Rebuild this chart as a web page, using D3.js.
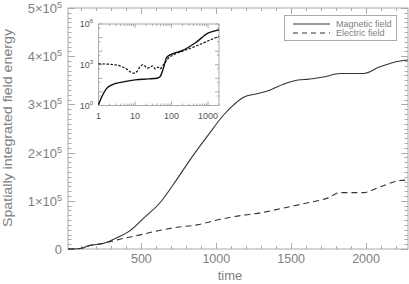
<!DOCTYPE html>
<html><head><meta charset="utf-8">
<script src="https://cdn.jsdelivr.net/npm/d3@7"></script>
<style>body{margin:0;background:#fff}svg{display:block}text{font-family:"Liberation Sans",Arial,sans-serif;fill:#808080}</style>
</head><body><svg id="c" width="409" height="284"></svg>
<script>
// ---- data ----
const mainTime = [10,90,150,250,340,420,515,627,738,827,938,1049,1116,1182,1271,1360,1449,1560,1604,1716,1827,1982,2093,2227,2280];
const magneticMain = [0,1000,7000,12000,24000,37000,64000,97000,145000,186000,233000,278000,299000,315000,322000,330000,342000,351000,352000,357000,364000,364000,378000,390000,392000];
const electricTime = [10,90,150,250,338,515,627,738,871,1004,1116,1293,1493,1627,1738,1827,1982,2093,2227,2280];
const electricMain = [0,1000,7000,12000,19000,31000,39000,45000,50000,60000,67000,75000,88000,97000,105000,117000,117000,129000,142000,143000];
const insetTimeB = [1,1.24,1.7,2.33,4.4,10.1,23.5,39.8,49,60,74,102,192,445,1030,1740,2000];
const insetMagLog = [0.05,0.66,1.28,1.52,1.72,1.89,1.96,2.01,2.14,2.75,3.54,3.79,4.03,4.6,5.34,5.53,5.56];
const insetTimeE = [1,2.86,5.4,9.1,11.3,13.9,17.1,21.2,26,30,35.8,42.3,49,60,83,126,192,445,1030,2000];
const insetEleLog = [3.07,3.0,2.75,2.38,2.5,2.88,3.0,2.75,2.8,2.92,2.7,2.83,2.7,3.0,3.49,3.79,3.98,4.35,4.77,5.09];
const xTicks = [500,1000,1500,2000];
const yTicks = [0,1,2,3,4,5];
const insetXTicks = [1,10,100,1000];
const insetYLabels = [0,3,6];
const legendLabels = ["Magnetic field","Electric field"];

// ---- layout ----
const svg = d3.select("#c");
const L=68,R=408,T=8,B=249;
const x = d3.scaleLinear().domain([10,2280]).range([L,R]);
const y = d3.scaleLinear().domain([0,500000]).range([B,T]);
const axisCol="#aaa";

svg.append("rect").attr("x",L).attr("y",T).attr("width",R-L).attr("height",B-T)
  .attr("fill","none").attr("stroke",axisCol).attr("stroke-width",1);

d3.range(100,2281,100).forEach(v=>{
  const maj = v%500===0, len = maj?6:3, px = Math.round(x(v))+0.5;
  svg.append("line").attr("x1",px).attr("x2",px).attr("y1",B).attr("y2",B-len).attr("stroke",axisCol);
  svg.append("line").attr("x1",px).attr("x2",px).attr("y1",T).attr("y2",T+len).attr("stroke",axisCol);
});
xTicks.forEach(v=>{
  svg.append("text").attr("x",x(v)).attr("y",263).attr("text-anchor","middle")
    .attr("font-size",12.5).text(v);
});
svg.append("text").attr("x",230).attr("y",280).attr("text-anchor","middle").attr("font-size",13).text("time");

d3.range(0,500001,10000).forEach(v=>{
  const maj = v%100000===0, len = maj?7:3.5, py = Math.round(y(v))+0.5;
  svg.append("line").attr("x1",L).attr("x2",L+len).attr("y1",py).attr("y2",py).attr("stroke",axisCol);
  svg.append("line").attr("x1",R).attr("x2",R-len).attr("y1",py).attr("y2",py).attr("stroke",axisCol);
});
yTicks.forEach(k=>{
  const t = svg.append("text").attr("x",62).attr("y",y(k*100000)+5).attr("text-anchor","end").attr("font-size",13);
  if(k===0){ t.text("0"); }
  else {
    t.append("tspan").text(k+"×10");
    t.append("tspan").attr("dy",-5).attr("font-size",9).text("5");
  }
});
svg.append("text").attr("transform","translate(11.5,128) rotate(-90)").attr("text-anchor","middle")
  .attr("font-size",12.5).attr("textLength",198).attr("lengthAdjust","spacingAndGlyphs")
  .text("Spatially integrated field energy");

const lineM = d3.line().x(d=>x(d[0])).y(d=>y(d[1])).curve(d3.curveMonotoneX);
svg.append("path").datum(mainTime.map((t,i)=>[t,magneticMain[i]])).attr("d",lineM)
  .attr("fill","none").attr("stroke","#333").attr("stroke-width",1.1);
svg.append("path").datum(electricTime.map((t,i)=>[t,electricMain[i]])).attr("d",lineM)
  .attr("fill","none").attr("stroke","#333").attr("stroke-width",1.1).attr("stroke-dasharray","6,4");

svg.append("rect").attr("x",284.5).attr("y",15.5).attr("width",112).attr("height",25)
  .attr("fill","#fff").attr("stroke",axisCol);
legendLabels.forEach((lab,i)=>{
  const yy = 24+i*9;
  svg.append("line").attr("x1",293).attr("x2",330).attr("y1",yy).attr("y2",yy)
    .attr("stroke","#333").attr("stroke-width",1.1).attr("stroke-dasharray",i?"5,4":null);
  svg.append("text").attr("x",336).attr("y",yy+3).attr("font-size",9).text(lab);
});

const iL=98.5,iR=219,iT=24,iB=105.5;
const ix = d3.scaleLog().domain([1,2000]).range([iL,iR]);
const iy = d3.scaleLinear().domain([0,6]).range([iB,iT]);
svg.append("rect").attr("x",iL).attr("y",iT).attr("width",iR-iL).attr("height",iB-iT)
  .attr("fill","#fff").attr("stroke",axisCol);
[1,10,100,1000].forEach(dec=>{
  for(let m=1;m<=9;m++){
    const v=dec*m; if(v>2000) break;
    const px=ix(v), len = m===1?4:2;
    svg.append("line").attr("x1",px).attr("x2",px).attr("y1",iB).attr("y2",iB-len).attr("stroke",axisCol);
    svg.append("line").attr("x1",px).attr("x2",px).attr("y1",iT).attr("y2",iT+len).attr("stroke",axisCol);
  }
});
insetXTicks.forEach(v=>{
  svg.append("text").attr("x",ix(v)).attr("y",119).attr("text-anchor","middle").attr("font-size",9)
    .style("fill","#555").text(v);
});
d3.range(0,6.01,1).forEach(d=>{
  const py=iy(d);
  svg.append("line").attr("x1",iL).attr("x2",iL+4).attr("y1",py).attr("y2",py).attr("stroke",axisCol);
  svg.append("line").attr("x1",iR).attr("x2",iR-4).attr("y1",py).attr("y2",py).attr("stroke",axisCol);
  if(d<6){
    const pm = iy(d+Math.log10(5));
    svg.append("line").attr("x1",iL).attr("x2",iL+2).attr("y1",pm).attr("y2",pm).attr("stroke",axisCol);
    svg.append("line").attr("x1",iR).attr("x2",iR-2).attr("y1",pm).attr("y2",pm).attr("stroke",axisCol);
  }
});
insetYLabels.forEach(d=>{
  const t = svg.append("text").attr("x",93).attr("y",iy(d)+3).attr("text-anchor","end").attr("font-size",9).style("fill","#555");
  t.append("tspan").text("10");
  t.append("tspan").attr("dy",-4).attr("font-size",6).text(d);
});
const lineI = d3.line().x(d=>ix(d[0])).y(d=>iy(d[1])).curve(d3.curveMonotoneX);
svg.append("path").datum(insetTimeB.map((t,i)=>[t,insetMagLog[i]])).attr("d",lineI)
  .attr("fill","none").attr("stroke","#111").attr("stroke-width",1.4);
svg.append("path").datum(insetTimeE.map((t,i)=>[t,insetEleLog[i]])).attr("d",lineI)
  .attr("fill","none").attr("stroke","#111").attr("stroke-width",1.2).attr("stroke-dasharray","2.5,1.5");
</script></body></html>
